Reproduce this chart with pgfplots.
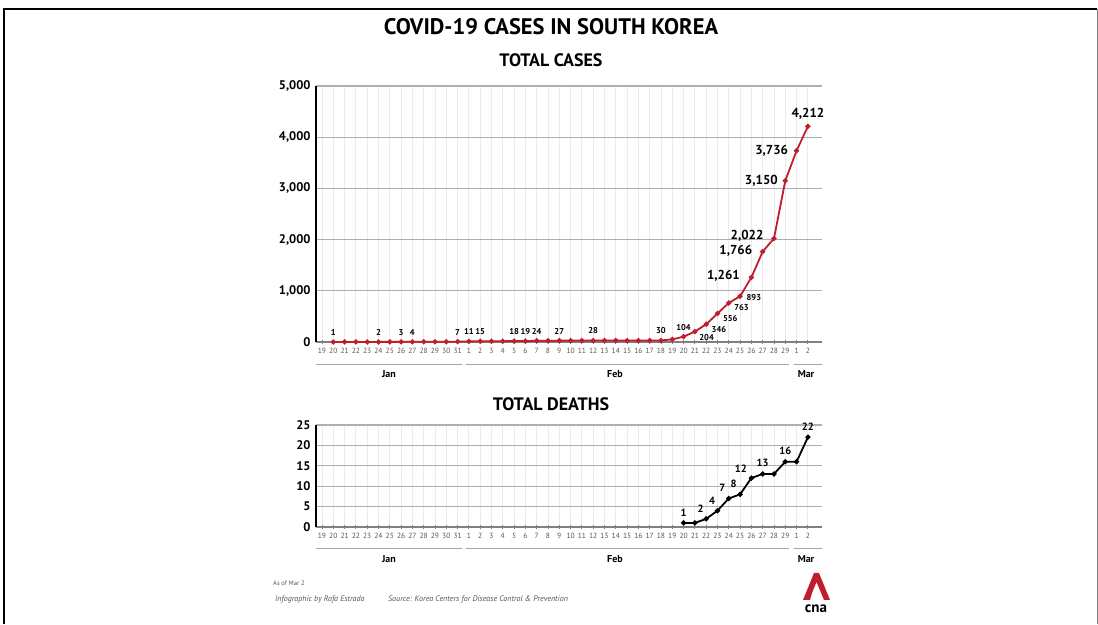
\documentclass[border=0pt]{standalone}
\usepackage{pgfplots}
\pgfplotsset{compat=1.18}
\usepackage{fontspec}
\setmainfont{PT Sans}
\definecolor{cnared}{RGB}{190,30,45}
\definecolor{gridgrey}{RGB}{175,175,175}
\definecolor{labgrey}{RGB}{85,85,85}

\pgfplotsset{
  covid/.style={
    scale only axis, anchor=south west, width=506pt,
    xmin=-0.53, xmax=44.25,
    axis x line=bottom, axis y line=left,
    x axis line style={-, draw=gray, line width=1.2pt},
    y axis line style={-, draw=black, line width=1.8pt},
    xtick={0,...,43},
    xticklabels={19,20,21,22,23,24,25,26,27,28,29,30,31,1,2,3,4,5,6,7,8,9,10,11,12,13,14,15,16,17,18,19,20,21,22,23,24,25,26,27,28,29,1,2},
    x tick label style={font=\fontsize{7.5}{8}\selectfont, text=labgrey, yshift=-1pt},
    xtick style={draw=gray, thick}, tick align=center, major tick length=4pt,
    ytick style={draw=none},
    y tick label style={font=\fontsize{12.5}{13}\selectfont\bfseries},
    /pgf/number format/assume math mode=true,
    /pgf/number format/1000 sep={,},
    xmajorgrids, ymajorgrids,
    major x grid style={draw=black!8, line width=0.8pt},
    major y grid style={draw=gridgrey, line width=1.2pt},
    clip=false,
  },
}
\tikzset{
  lbls/.style={font=\fontsize{8.5}{9}\selectfont\bfseries},
  lblb/.style={font=\fontsize{13}{14}\selectfont\bfseries},
  lblm/.style={font=\fontsize{10.5}{11}\selectfont\bfseries},
  month/.style={font=\fontsize{10}{11}\selectfont\bfseries},
}

\begin{document}
\begin{tikzpicture}
\path[use as bounding box] (0,0) rectangle (1098pt,624pt);
% frame
\draw[line width=2.4pt] (4pt,0) -- (4pt,615pt) -- (1097pt,615pt);
\draw[gray, line width=1pt] (1097pt,615pt) -- (1097pt,0);

% titles
\node[font=\fontsize{22.5}{24}\selectfont\bfseries] at (551pt,597pt) {COVID-19 CASES IN SOUTH KOREA};
\node[font=\fontsize{18}{19}\selectfont\bfseries] at (551pt,564pt) {TOTAL CASES};
\node[font=\fontsize{18}{19}\selectfont\bfseries] at (551pt,220pt) {TOTAL DEATHS};

% total cases
\begin{axis}[covid, at={(316pt,282pt)}, height=256pt,
  ymin=0, ymax=5000, ytick={0,1000,...,5000}]
\addplot[cnared, line width=1.8pt, mark=*, mark size=1.6pt] coordinates {
(1,1) (2,1) (3,1) (4,1) (5,2) (6,2) (7,3) (8,4) (9,4) (10,4) (11,4) (12,7)
(13,11) (14,15) (15,15) (16,16) (17,18) (18,19) (19,24) (20,24) (21,27) (22,27)
(23,28) (24,28) (25,28) (26,28) (27,28) (28,28) (29,29) (30,30) (31,51)
(32,104) (33,204) (34,346) (35,556) (36,763) (37,893) (38,1261) (39,1766)
(40,2022) (41,3150) (42,3736) (43,4212)
};
\node[lbls, anchor=south, yshift=3pt] at (axis cs:1,1) {1};
\node[lbls, anchor=south, yshift=3pt] at (axis cs:5,2) {2};
\node[lbls, anchor=south, yshift=3pt] at (axis cs:7,3) {3};
\node[lbls, anchor=south, yshift=3pt] at (axis cs:8,4) {4};
\node[lbls, anchor=south, yshift=3pt] at (axis cs:12,7) {7};
\node[lbls, anchor=south, yshift=3pt] at (axis cs:13,11) {11};
\node[lbls, anchor=south, yshift=3pt] at (axis cs:14,15) {15};
\node[lbls, anchor=south, yshift=3pt] at (axis cs:17,18) {18};
\node[lbls, anchor=south, yshift=3pt] at (axis cs:18,19) {19};
\node[lbls, anchor=south, yshift=3pt] at (axis cs:19,24) {24};
\node[lbls, anchor=south, yshift=3pt] at (axis cs:21,27) {27};
\node[lbls, anchor=south, yshift=3pt] at (axis cs:24,28) {28};
\node[lbls, anchor=south, yshift=3pt] at (axis cs:30,30) {30};
\node[lbls, anchor=south, yshift=3pt] at (axis cs:32,104) {104};
\node[lbls, anchor=west, xshift=1pt, yshift=-6pt] at (axis cs:33,204) {204};
\node[lbls, anchor=west, xshift=2pt, yshift=-5pt] at (axis cs:34,346) {346};
\node[lbls, anchor=west, xshift=2pt, yshift=-5pt] at (axis cs:35,556) {556};
\node[lbls, anchor=west, xshift=2pt, yshift=-5pt] at (axis cs:36,763) {763};
\node[lbls, anchor=west, xshift=3pt, yshift=-1pt] at (axis cs:37,893) {893};
\node[lblb, anchor=east, xshift=-8pt, yshift=2pt] at (axis cs:38,1261) {1,261};
\node[lblb, anchor=east, xshift=-7pt, yshift=1pt] at (axis cs:39,1766) {1,766};
\node[lblb, anchor=east, xshift=-7pt, yshift=3pt] at (axis cs:40,2022) {2,022};
\node[lblb, anchor=east, xshift=-4pt] at (axis cs:41,3150) {3,150};
\node[lblb, anchor=east, xshift=-5pt] at (axis cs:42,3736) {3,736};
\node[lblb, anchor=south, yshift=3pt] at (axis cs:43,4212) {4,212};
\end{axis}

% month brackets (cases)
\draw[gray!70, line width=0.8pt] (316pt,260pt) -- (462pt,260pt);
\draw[gray!70, line width=0.8pt] (466pt,260pt) -- (789pt,260pt);
\draw[gray!70, line width=0.8pt] (794pt,260pt) -- (822pt,260pt);
\node[month] at (389pt,250pt) {Jan};
\node[month] at (615pt,250pt) {Feb};
\node[month] at (806pt,250pt) {Mar};

% total deaths
\begin{axis}[covid, at={(316pt,97pt)}, height=102pt,
  ymin=0, ymax=25, ytick={0,5,...,25}]
\addplot[black, line width=1.8pt, mark=*, mark size=1.6pt] coordinates {
(32,1) (33,1) (34,2) (35,4) (36,7) (37,8) (38,12) (39,13) (40,13) (41,16) (42,16) (43,22)
};
\node[lblm, anchor=south, yshift=3pt] at (axis cs:32,1) {1};
\node[lblm, anchor=south east, xshift=1pt, yshift=3pt] at (axis cs:34,2) {2};
\node[lblm, anchor=south east, xshift=1pt, yshift=3pt] at (axis cs:35,4) {4};
\node[lblm, anchor=south east, yshift=3pt] at (axis cs:36,7) {7};
\node[lblm, anchor=south east, yshift=3pt] at (axis cs:37,8) {8};
\node[lblm, anchor=south east, xshift=-1pt, yshift=2pt] at (axis cs:38,12) {12};
\node[lblm, anchor=south, yshift=4pt] at (axis cs:39,13) {13};
\node[lblm, anchor=south, yshift=4pt] at (axis cs:41,16) {16};
\node[lblm, anchor=south, yshift=3pt] at (axis cs:43,22) {22};
\end{axis}

% month brackets (deaths)
\draw[gray!70, line width=0.8pt] (316pt,76pt) -- (462pt,76pt);
\draw[gray!70, line width=0.8pt] (466pt,76pt) -- (789pt,76pt);
\draw[gray!70, line width=0.8pt] (794pt,76pt) -- (822pt,76pt);
\node[month] at (389pt,65pt) {Jan};
\node[month] at (615pt,65pt) {Feb};
\node[month] at (806pt,65pt) {Mar};

% footer
\node[anchor=west, font=\fontsize{6.5}{7}\selectfont, text=labgrey, inner sep=0pt] at (273pt,41pt) {As of Mar 2};
\node[anchor=west, font=\fontsize{8}{9}\selectfont\itshape, text=labgrey, inner sep=0pt] at (275pt,25pt) {Infographic by Rafa Estrada};
\node[anchor=west, font=\fontsize{8}{9}\selectfont\itshape, text=labgrey, inner sep=0pt] at (388pt,25pt) {Source: Korea Centers for Disease Control \& Prevention};

% cna logo
\fill[cnared] (803pt,24pt) -- (814pt,51pt) -- (819pt,51pt) -- (830pt,24pt) -- (824pt,24pt) -- (816.5pt,42pt) -- (812pt,31pt) -- (810pt,24pt) -- cycle;
\node[font=\fontsize{15}{16}\selectfont\bfseries] at (816pt,15pt) {cna};
\end{tikzpicture}
\end{document}
